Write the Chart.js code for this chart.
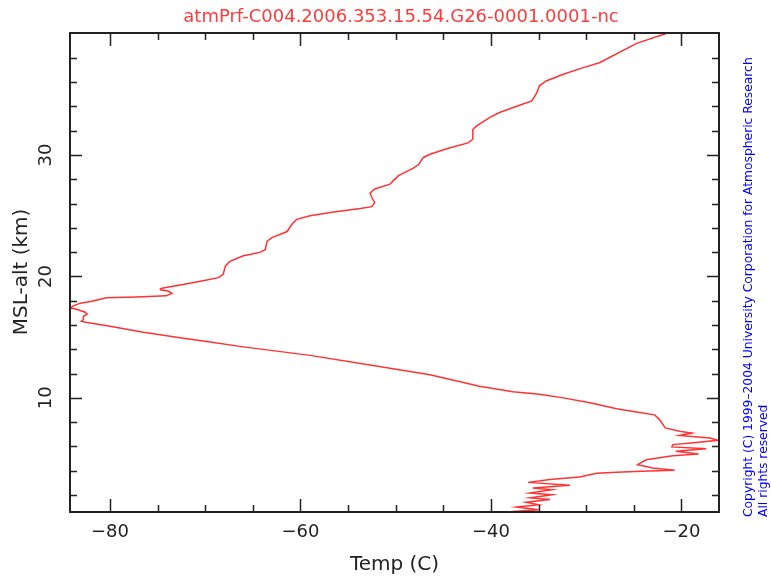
<!DOCTYPE html>
<html>
<head>
<meta charset="utf-8">
<script src="https://cdn.jsdelivr.net/npm/chart.js@4.4.1/dist/chart.umd.min.js"></script>
<style>
  html, body { margin: 0; padding: 0; background: #fff; }
  #wrap { width: 771px; height: 576px; }
</style>
</head>
<body>
<div id="wrap"><canvas id="chart" width="771" height="576"></canvas></div>
<script>
// sounding profile, bottom to top
const alts = [0.6, 0.65, 0.79, 1.01, 1.2, 1.4, 1.62, 1.76, 2.03, 2.17, 2.44, 2.58, 2.8, 3.04, 3.27, 3.49, 3.8, 3.87, 3.95, 4.03,
  4.23, 4.5, 4.9, 5.24, 5.38, 5.6, 5.8, 5.96, 6.15, 6.3, 6.5, 6.7, 6.9, 7.1, 7.25, 7.53, 8.21, 8.6, 8.8, 9.1,
  9.6, 10.0, 10.3, 10.5, 10.95, 11.9, 12.7, 13.5, 14.2, 14.6, 15.0, 15.4, 15.9,
  16.2, 16.3, 16.45, 16.7, 16.9, 17.05, 17.3, 17.4, 17.6, 17.8, 17.95, 18.25, 18.3, 18.4, 18.6, 18.8, 18.9, 19.0, 19.15, 19.3,
  19.6, 19.9, 20.2, 20.85, 21.25, 21.7, 21.8, 22.0, 22.2, 22.9, 23.2, 23.7, 24.3, 24.7, 25.0, 25.3, 25.6, 25.75, 26.1, 26.5,
  26.85, 27.2, 27.6, 27.85, 28.3, 28.9, 29.2, 29.8, 30.06, 30.6, 31.0, 31.3, 32.1, 32.4, 33.1, 33.5, 34.1, 34.45, 35.1, 35.7,
  36.1, 36.65, 37.2, 37.6, 39.2, 39.9, 40.0];
const temps = [-36.3, -37.7, -35.0, -37.3, -35.0, -36.3, -33.8, -35.9, -33.6, -35.9, -33.6, -35.6, -31.7, -36.1, -33.8, -30.7, -28.9, -26.8, -24.2, -20.7,
  -23.0, -24.6, -23.7, -20.9, -18.2, -20.6, -17.4, -21.0, -20.9, -18.7, -16.15, -17.0, -20.2, -18.9, -20.2, -21.7, -22.3, -22.8, -24.4, -26.8,
  -29.6, -32.4, -34.9, -37.7, -41.2, -46.4, -52.7, -59.0, -66.0, -69.5, -73.0, -76.5, -80.0,
  -82.4, -83.0, -82.8, -82.8, -82.4, -82.6, -83.5, -84.2, -83.8, -83.1, -81.9, -80.4, -77.2, -74.1, -73.5, -73.9, -74.7, -74.7, -73.7, -72.6,
  -70.5, -68.6, -68.1, -67.9, -67.4, -66.0, -65.3, -64.2, -63.7, -63.5, -63.0, -61.4, -60.9, -60.4, -59.0, -56.5, -53.7, -52.5, -52.2, -52.5,
  -52.7, -52.2, -50.6, -50.3, -49.7, -48.2, -47.6, -47.1, -46.4, -44.3, -42.4, -41.9, -41.9, -41.5, -40.1, -39.1, -37.0, -35.7, -35.2, -34.9,
  -34.2, -32.4, -30.3, -28.6, -24.7, -22.0, -21.6];

const xLabels = [-80, -60, -40, -20];
const xMinor = [-80, -75, -70, -65, -60, -55, -50, -45, -40, -35, -30, -25, -20];
const yLabels = [10, 20, 30];
const yMinor = [2, 4, 6, 8, 10, 12, 14, 16, 18, 20, 22, 24, 26, 28, 30, 32, 34, 36, 38];

const title = "atmPrf-C004.2006.353.15.54.G26-0001.0001-nc";
const copy1 = "Copyright (C) 1999\u20132004 University Corporation for Atmospheric Research";
const copy2 = "All rights reserved";

const points = alts.map((h, i) => ({ x: temps[i], y: h }));

const frame = {
  id: "frame",
  afterDraw(chart) {
    const ctx = chart.ctx;
    const a = chart.chartArea;
    const x = chart.scales.x, y = chart.scales.y;
    ctx.save();
    ctx.strokeStyle = "#222";
    ctx.lineWidth = 2;
    ctx.strokeRect(a.left, a.top, a.right - a.left, a.bottom - a.top);

    ctx.lineWidth = 1.5;
    ctx.beginPath();
    xMinor.forEach(v => {
      let px = Math.round(x.getPixelForValue(v)) + 0.5;
      let len = xLabels.includes(v) ? 13 : 7;
      ctx.moveTo(px, a.bottom); ctx.lineTo(px, a.bottom - len);
      ctx.moveTo(px, a.top); ctx.lineTo(px, a.top + len);
    });
    yMinor.forEach(v => {
      let py = Math.round(y.getPixelForValue(v)) + 0.5;
      let len = yLabels.includes(v) ? 12 : 7;
      ctx.moveTo(a.left, py); ctx.lineTo(a.left + len, py);
      ctx.moveTo(a.right, py); ctx.lineTo(a.right - len, py);
    });
    ctx.stroke();

    ctx.fillStyle = "#222";
    ctx.font = "18px 'DejaVu Sans'";
    ctx.textAlign = "center";
    ctx.textBaseline = "middle";
    xLabels.forEach(v => {
      ctx.fillText(String(v).replace("-", "\u2212"), x.getPixelForValue(v), a.bottom + 20);
    });
    yLabels.forEach(v => {
      ctx.save();
      ctx.translate(a.left - 24, y.getPixelForValue(v));
      ctx.rotate(-Math.PI / 2);
      ctx.fillText(String(v), 0, 0);
      ctx.restore();
    });

    ctx.font = "20px 'DejaVu Sans'";
    ctx.fillText("Temp (C)", (a.left + a.right) / 2, 565);
    ctx.save();
    ctx.translate(22, 272);
    ctx.rotate(-Math.PI / 2);
    ctx.fillText("MSL-alt (km)", 0, 0);
    ctx.restore();

    ctx.fillStyle = "#ff3b3b";
    ctx.font = "18px 'DejaVu Sans'";
    ctx.fillText(title, 401, 17);

    ctx.fillStyle = "#0000ff";
    ctx.font = "12.3px 'DejaVu Sans'";
    ctx.textAlign = "left";
    ctx.save();
    ctx.translate(749, 517);
    ctx.rotate(-Math.PI / 2);
    ctx.fillText(copy1, 0, 0);
    ctx.fillText(copy2, 0, 15);
    ctx.restore();
    ctx.restore();
  }
};

new Chart(document.getElementById("chart"), {
  type: "scatter",
  data: {
    datasets: [{
      data: points,
      showLine: true,
      borderColor: "#ff3333",
      borderWidth: 1.5,
      pointRadius: 0,
      tension: 0
    }]
  },
  options: {
    responsive: false,
    animation: false,
    layout: { padding: { left: 70, right: 52, top: 33, bottom: 64 } },
    plugins: { legend: { display: false }, tooltip: { enabled: false } },
    scales: {
      x: { type: "linear", min: -84.2, max: -16.05, display: false },
      y: { type: "linear", min: 0.6, max: 40.05, display: false }
    }
  },
  plugins: [frame]
});
</script>
</body>
</html>
